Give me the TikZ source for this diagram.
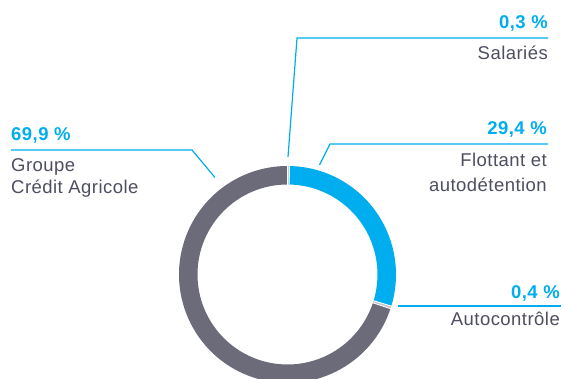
\documentclass[tikz,border=0pt]{standalone}
\usepackage{fontspec}
\setmainfont{Liberation Sans}[LetterSpace=2.5]

\definecolor{cablue}{RGB}{0,174,239}
\definecolor{ringgray}{RGB}{107,107,122}
\definecolor{txtgray}{RGB}{78,78,98}
\definecolor{salblue}{RGB}{160,220,245}
\definecolor{autogray}{RGB}{200,200,208}

\begin{document}
\begin{tikzpicture}[
    x=1pt, y=1pt,
    lead/.style={draw=cablue, line width=1.2pt},
    pct/.style={font=\fontsize{18.5}{20}\selectfont\bfseries, text=cablue, inner sep=0pt},
    lbl/.style={font=\fontsize{18.5}{25}\selectfont, text=txtgray, inner sep=0pt, align=left},
    sep/.style={draw=white, line width=0.8pt}
  ]

    % Frame
    \fill[white] (0,0) rectangle (564,379);
    \useasboundingbox (0,0) rectangle (564,379);

    % Ring segments (outer 108.5, inner 90)
    \def\segSal{(90:108.5) arc[start angle=90, end angle=88.92, radius=108.5] -- (88.92:90) arc[start angle=88.92, end angle=90, radius=90] -- cycle}
    \def\segFlot{(88.92:108.5) arc[start angle=88.92, end angle=-16.92, radius=108.5] -- (-16.92:90) arc[start angle=-16.92, end angle=88.92, radius=90] -- cycle}
    \def\segAuto{(-16.92:108.5) arc[start angle=-16.92, end angle=-18.36, radius=108.5] -- (-18.36:90) arc[start angle=-18.36, end angle=-16.92, radius=90] -- cycle}
    \def\segGca{(-18.36:108.5) arc[start angle=-18.36, end angle=-270, radius=108.5] -- (-270:90) arc[start angle=-270, end angle=-18.36, radius=90] -- cycle}

    \begin{scope}[shift={(287.5,104.5)}]
      \fill[salblue] \segSal;
      \fill[cablue] \segFlot;
      \fill[autogray] \segAuto;
      \fill[ringgray] \segGca;

      % White separators
      \draw[sep] (90:88) -- (90:110);
      \draw[sep] (88.92:88) -- (88.92:110);
      \draw[sep] (-16.92:88) -- (-16.92:110);
      \draw[sep] (-18.36:88) -- (-18.36:110);
    \end{scope}

    % Leader lines
    \coordinate (salTip) at (288,222);
    \coordinate (salBend) at (297,341);
    \coordinate (salEnd) at (548,341);
    \draw[lead] (salTip) -- (salBend) -- (salEnd);

    \coordinate (flotTip) at (319.5,214);
    \coordinate (flotBend) at (330,235);
    \coordinate (flotEnd) at (548,235);
    \draw[lead] (flotTip) -- (flotBend) -- (flotEnd);

    \coordinate (gcaTip) at (215,201.5);
    \coordinate (gcaBend) at (192,229);
    \coordinate (gcaEnd) at (11,229);
    \draw[lead] (gcaTip) -- (gcaBend) -- (gcaEnd);

    \coordinate (autoTip) at (398,73);
    \coordinate (autoEnd) at (561,73);
    \draw[lead] (autoTip) -- (autoEnd);

    % Labels
    \node[pct, anchor=base east] (salPct) at (548,350.7) {0,3 \%};
    \node[lbl, anchor=base east] (salLbl) at (548,319) {Salariés};

    \node[pct, anchor=base east] (flotPct) at (547,244) {29,4 \%};
    \node[lbl, anchor=north east, align=right] (flotLbl) at (547,225.9) {Flottant et\\autodétention};

    \node[pct, anchor=base west] (gcaPct) at (11,238.3) {69,9 \%};
    \node[lbl, anchor=north west, font=\fontsize{18.5}{21.5}\selectfont] (gcaLbl) at (11,220.5) {Groupe\\Crédit Agricole};

    \node[pct, anchor=base east] (autoPct) at (560,80.7) {0,4 \%};
    \node[lbl, anchor=base east] (autoLbl) at (560,53.3) {Autocontrôle};

  \end{tikzpicture}
\end{document}
